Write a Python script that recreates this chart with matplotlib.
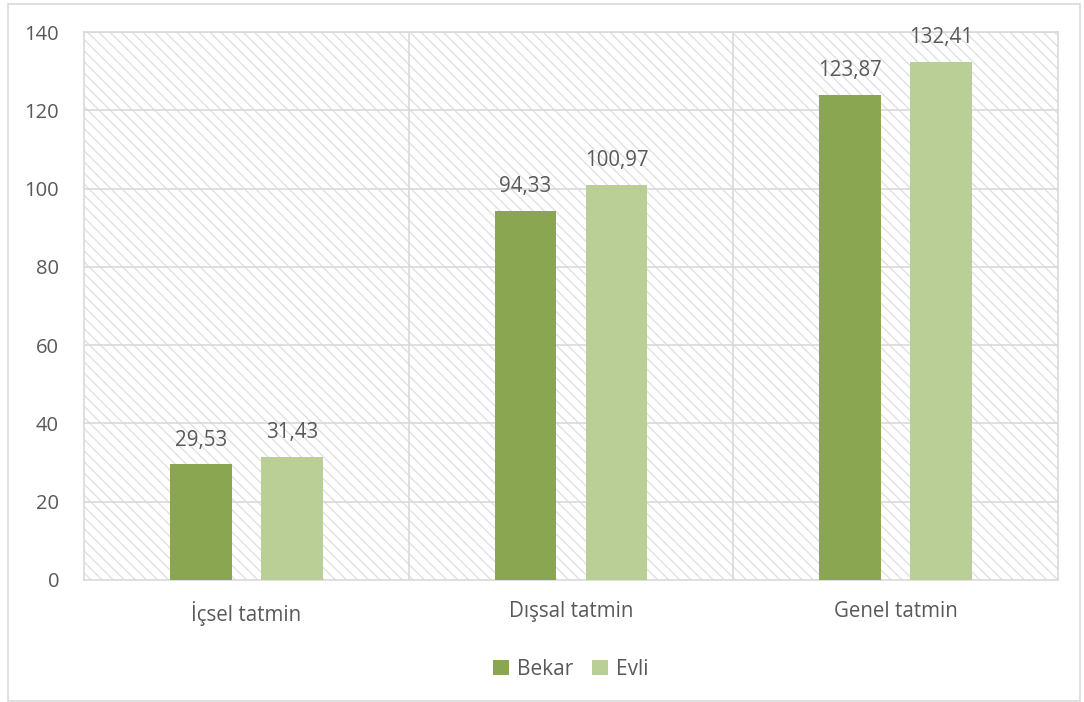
import numpy as np
import matplotlib.pyplot as plt
from matplotlib.patches import Rectangle

categories = ["İçsel tatmin", "Dışsal tatmin", "Genel tatmin"]
bekar = [29.53, 94.33, 123.87]
evli = [31.43, 100.97, 132.41]
series_names = ["Bekar", "Evli"]
yticks = [0, 20, 40, 60, 80, 100, 120, 140]

text_color = "#595959"
grid_color = "#d9d9d9"
colors = ["#8ba650", "#bacf95"]

plt.rcParams["font.family"] = ["Open Sans", "DejaVu Sans"]
plt.rcParams["hatch.linewidth"] = 0.9

fig = plt.figure(figsize=(10.84, 7.02), dpi=100)
ax = fig.add_axes([0.0775, 0.1738, 0.8985, 0.7806])

# outer chart border
fig.patches.append(Rectangle((8 / 1084, 1 / 702), 1072 / 1084, 697 / 702,
                             transform=fig.transFigure, fill=False,
                             edgecolor=grid_color, lw=1.2))

# hatched plot area background
ax.patch.set_visible(False)
ax.add_patch(Rectangle((0, 0), 1, 1, transform=ax.transAxes, facecolor="white",
                       edgecolor="#dedede", hatch="\\\\\\", lw=0, zorder=0))

x = np.arange(len(categories))
w = 0.19
off = 0.14
b1 = ax.bar(x - off, bekar, w, color=colors[0], label=series_names[0], zorder=3)
b2 = ax.bar(x + off, evli, w, color=colors[1], label=series_names[1], zorder=3)

for bars, vals in ((b1, bekar), (b2, evli)):
    for rect, v in zip(bars, vals):
        ax.annotate(f"{v:.2f}".replace(".", ","),
                    (rect.get_x() + rect.get_width() / 2, v),
                    xytext=(0, 10), textcoords="offset points",
                    ha="center", va="bottom", fontsize=14.8, color=text_color)

ax.set_xlim(-0.5, 2.5)
ax.set_ylim(0, 140)
ax.set_yticks(yticks)
ax.set_xticks(x)
ax.set_xticklabels(categories)
ax.tick_params(length=0, labelsize=14.5, labelcolor=text_color)
ax.tick_params(axis="x", labelsize=14.8, pad=15)
ax.tick_params(axis="y", pad=18)

for y in yticks[1:]:
    ax.axhline(y, color=grid_color, lw=1.2, zorder=1)
for xv in (0.5, 1.5):
    ax.axvline(xv, color=grid_color, lw=1.2, zorder=1)
for s in ax.spines.values():
    s.set_color(grid_color)
    s.set_linewidth(1.2)

ax.legend(loc="upper center", bbox_to_anchor=(0.5, -0.11), ncol=2, frameon=False,
          fontsize=15, labelcolor=text_color, handlelength=0.75, handleheight=0.75,
          handletextpad=0.4, columnspacing=0.9)

fig.savefig("out.png", dpi=100)
